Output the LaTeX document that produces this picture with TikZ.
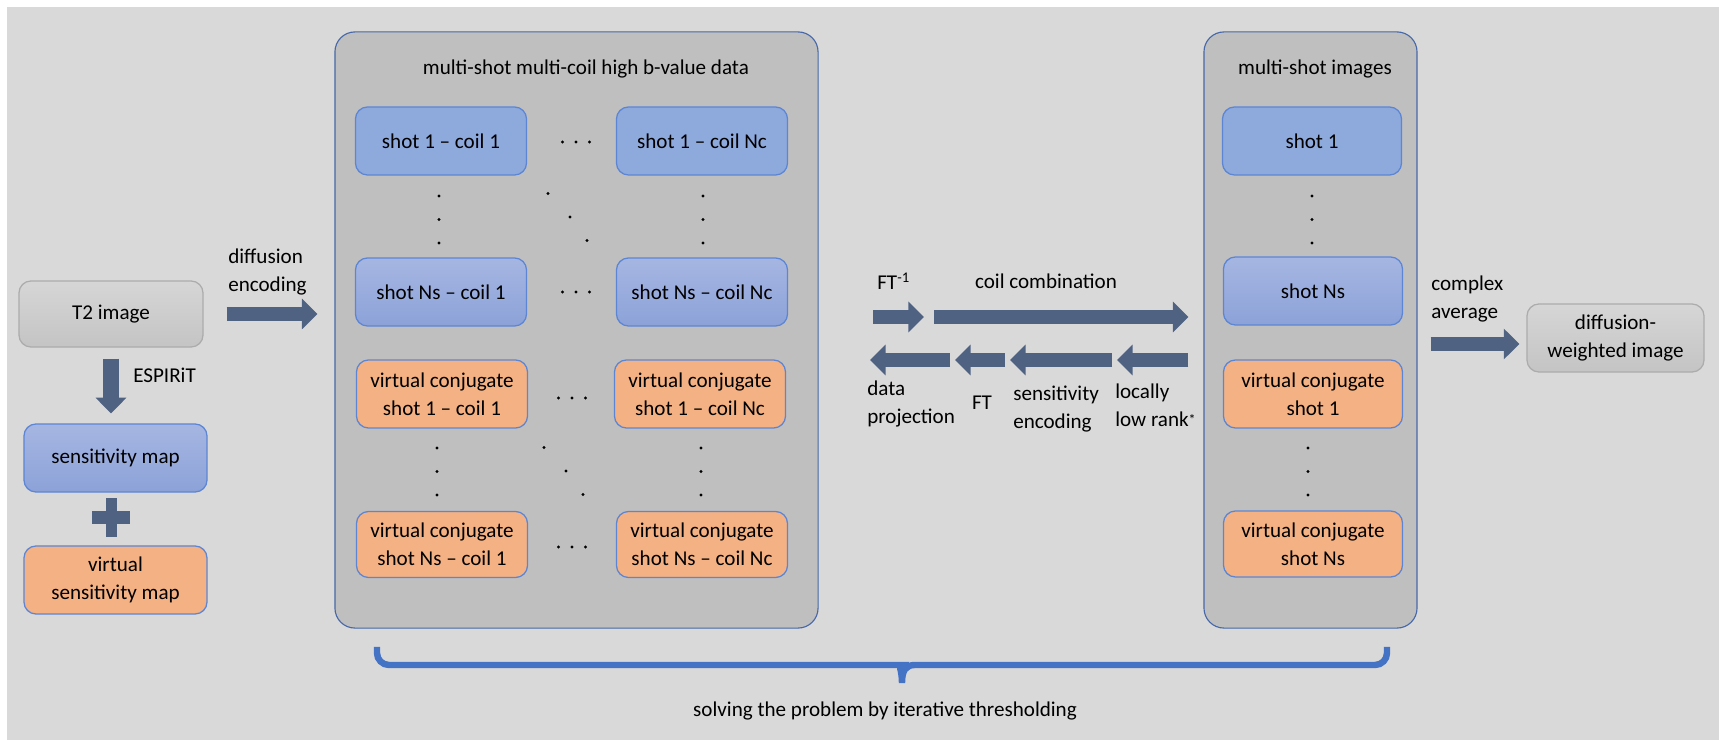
\documentclass[tikz,border=0pt]{standalone}
\usepackage{fontspec}
\setmainfont{Carlito}
\usetikzlibrary{arrows.meta,calc}
\definecolor{bggray}{RGB}{217,217,217}
\definecolor{panelgray}{RGB}{191,191,191}
\definecolor{panelblue}{RGB}{70,104,168}
\definecolor{boxblue}{RGB}{142,169,219}
\definecolor{boxbluetop}{RGB}{166,182,226}
\definecolor{boxbluebot}{RGB}{140,162,216}
\definecolor{boxline}{RGB}{92,134,212}
\definecolor{virtorange}{RGB}{244,177,131}
\definecolor{greytop}{RGB}{214,214,214}
\definecolor{greybot}{RGB}{196,196,196}
\definecolor{greyline}{RGB}{172,172,172}
\definecolor{slate}{RGB}{79,98,130}
\definecolor{braceblue}{RGB}{68,114,196}

% dotted "and so on" marks between the cells
\newcommand{\dotcol}[1]{\foreach \dd in {-23.5,0,23.5} \fill ($#1+(0,\dd)$) circle (1.2pt);}
\newcommand{\dotrow}[1]{\foreach \dd in {-13.5,0,13.5} \fill ($#1+(\dd,0)$) circle (1.2pt);}
\newcommand{\dotdiag}[1]{\foreach \dx/\dy in {-22/-23.5,0/0,17/23.5} \fill ($#1+(\dx,\dy)$) circle (1.2pt);}

\begin{document}
\begin{tikzpicture}[x=0.025cm, y=-0.025cm,
    every node/.style={font=\fontsize{15}{20}\selectfont},
    cell/.style={draw=boxline, line width=0.9pt, rounded corners=0.3cm, align=center,
                 minimum width=4.275cm, minimum height=1.7cm, inner sep=1pt},
    blueflat/.style={cell, fill=boxblue},
    blueshade/.style={cell, top color=boxbluetop, bottom color=boxbluebot},
    virtual/.style={cell, fill=virtorange},
    greycell/.style={cell, draw=greyline, top color=greytop, bottom color=greybot},
    panel/.style={draw=panelblue, line width=0.8pt, fill=panelgray, rounded corners=0.5cm,
                  minimum height=14.9cm},
    lbl/.style={inner sep=0pt, align=left},
    fatarrow/.style={draw=slate, line width=0.36cm, -{Triangle[length=0.39cm, width=0.75cm]}},
    bracestroke/.style={draw=braceblue, line width=0.16cm}]
    % page background
    \useasboundingbox (0,0) rectangle (1719,740);
    \fill[white] (0,0) rectangle (1719,740);
    \fill[bggray] (7,7) rectangle (1719,740);

    % T2 image and the two sensitivity maps
    \node[greycell, minimum width=4.6cm, minimum height=1.65cm] (t2) at (111,314) {T2 image};
    \node[blueshade, minimum width=4.575cm] (smap) at (115.5,458) {sensitivity map};
    \node[virtual, minimum width=4.575cm] (vsmap) at (115.5,580) {virtual\\sensitivity map};
    \draw[fatarrow, line width=0.4cm, shorten <=0.275cm, shorten >=0.25cm] (t2.south) -- (t2.south |- smap.north);
    \node[lbl, anchor=west] at (133,375) {ESPIRiT};
    % plus sign
    \fill[slate] (92,511) rectangle (130,524);
    \fill[slate] (105.5,498) rectangle (117,537);

    % k-space panel
    \node[panel, minimum width=12.075cm] (data) at (576.5,330) {};
    \node at (586,69) {multi-shot multi-coil high b-value data};
    \node[blueflat] (s11) at (441,141) {shot 1 – coil 1};
    \node[blueflat] (s1n) at (702,141) {shot 1 – coil Nc};
    \node[blueshade] (sn1) at (441,292) {shot Ns – coil 1};
    \node[blueshade] (snn) at (702,292) {shot Ns – coil Nc};
    \node[virtual] (v11) at (442,394) {virtual conjugate\\shot 1 – coil 1};
    \node[virtual] (v1n) at (700,394) {virtual conjugate\\shot 1 – coil Nc};
    \node[virtual, minimum height=1.65cm] (vn1) at (442,544.5) {virtual conjugate\\shot Ns – coil 1};
    \node[virtual, minimum height=1.65cm] (vnn) at (702,544.5) {virtual conjugate\\shot Ns – coil Nc};
    \dotrow{(576,142)} \dotrow{(576,292)} \dotrow{(572,398)} \dotrow{(572,547)}
    \dotcol{(439,219.5)} \dotcol{(703,219.5)} \dotdiag{(570,217)}
    \dotcol{(437,471.5)} \dotcol{(701,471.5)} \dotdiag{(566,471)}

    % image panel
    \node[panel, minimum width=5.325cm] (images) at (1310.5,330) {};
    \node at (1315,69) {multi-shot images};
    \node[blueflat, minimum width=4.475cm] (i1) at (1312,141) {shot 1};
    \node[blueshade, minimum width=4.475cm] (ins) at (1313,291) {shot Ns};
    \node[virtual, minimum width=4.475cm] (iv1) at (1313,394) {virtual conjugate\\shot 1};
    \node[virtual, minimum width=4.475cm, minimum height=1.65cm] (ivn) at (1313,544) {virtual conjugate\\shot Ns};
    \dotcol{(1312,219.5)} \dotcol{(1308,471.5)}

    % final image
    \node[greycell, minimum width=4.425cm] (dwi) at (1615.5,338) {diffusion-\\weighted image};

    % encoding and averaging
    \draw[fatarrow, shorten <=0.575cm, shorten >=0.425cm] (t2.east) -- (t2.east -| data.west);
    \node[lbl, anchor=west] at (228,272) {diffusion\\encoding};
    \coordinate (avg) at ([yshift=-0.15cm]dwi.west);
    \draw[fatarrow, shorten <=0.325cm, shorten >=0.175cm] (avg -| images.east) -- (avg);
    \node[lbl, anchor=west] at (1431,299) {complex\\average};

    % operators between the panels
    \coordinate (ftiS) at (873,317);
    \coordinate (ftiE) at (924,317);
    \coordinate (ccS) at (934,317);
    \draw[fatarrow] (ftiS) -- (ftiE);
    \draw[fatarrow, shorten >=0.375cm] (ccS) -- (ccS -| images.west);
    \node[lbl, anchor=base west] at (877,290) {FT\textsuperscript{-1}};
    \node[lbl, anchor=base] at (1046,289) {coil combination};

    \coordinate (dpE) at (870,360);
    \coordinate (dpS) at (950,360);
    \coordinate (ftE) at (955,360);
    \coordinate (ftS) at (1005,360);
    \coordinate (seE) at (1010,360);
    \coordinate (seS) at (1112,360);
    \coordinate (lrE) at (1117,360);
    \draw[fatarrow] (dpS) -- (dpE);
    \draw[fatarrow] (ftS) -- (ftE);
    \draw[fatarrow] (seS) -- (seE);
    \draw[fatarrow, shorten <=0.375cm] (lrE -| images.west) -- (lrE);
    \node[lbl, anchor=west] at (867,404) {data\\projection};
    \node[lbl] at (982,403) {FT};
    \node[lbl, anchor=west] at (1013,409) {sensitivity\\encoding};
    \node[lbl, anchor=west] at (1115,405) {locally\\low rank\raisebox{1pt}{\fontsize{10}{10}\selectfont *}};

    % iteration brace
    \draw[bracestroke] (377,647) [rounded corners=0.3cm] -- (377,665) -- (889,665) [sharp corners]
        .. controls (898,665) and (902,670) .. (902,683)
        .. controls (902,670) and (906,665) .. (915,665) [rounded corners=0.3cm] -- (1387,665) -- (1387,647);
    \node at (885,711) {solving the problem by iterative thresholding};
\end{tikzpicture}
\end{document}
